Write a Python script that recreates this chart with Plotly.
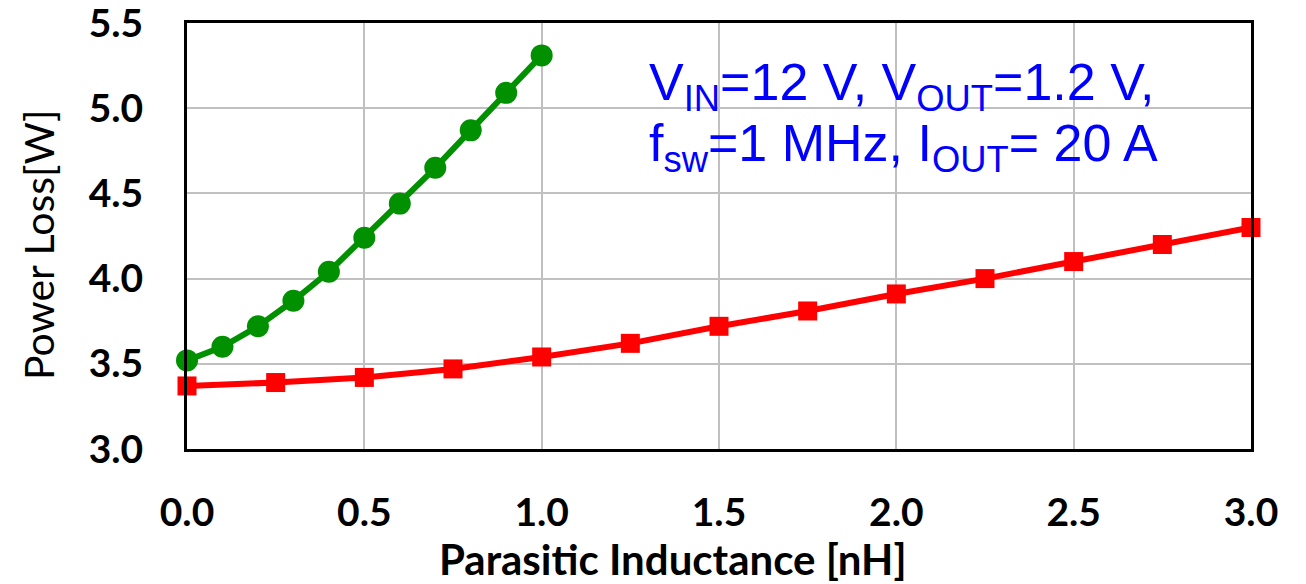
import plotly.graph_objects as go

# Data
x_green = [0.0, 0.1, 0.2, 0.3, 0.4, 0.5, 0.6, 0.7, 0.8, 0.9, 1.0]
y_green = [3.52, 3.60, 3.72, 3.87, 4.04, 4.24, 4.44, 4.65, 4.87, 5.09, 5.31]
x_red = [0.0, 0.25, 0.5, 0.75, 1.0, 1.25, 1.5, 1.75, 2.0, 2.25, 2.5, 2.75, 3.0]
y_red = [3.37, 3.39, 3.42, 3.47, 3.54, 3.62, 3.72, 3.81, 3.91, 4.00, 4.10, 4.20, 4.30]
x_ticks = [0.0, 0.5, 1.0, 1.5, 2.0, 2.5, 3.0]
y_ticks = [3.0, 3.5, 4.0, 4.5, 5.0, 5.5]
x_title = "Parasitic Inductance [nH]"
y_title = "Power Loss[W]"
note_line1 = "V<sub>IN</sub>=12 V, V<sub>OUT</sub>=1.2 V,"
note_line2 = "f<sub>sw</sub>=1 MHz, I<sub>OUT</sub>= 20 A"

fig = go.Figure()
fig.add_trace(go.Scatter(x=x_red, y=y_red, mode="lines+markers",
                         line=dict(color="#ff0000", width=6),
                         marker=dict(symbol="square", size=19, color="#ff0000"),
                         cliponaxis=False, showlegend=False))
fig.add_trace(go.Scatter(x=x_green, y=y_green, mode="lines+markers",
                         line=dict(color="#009000", width=6),
                         marker=dict(symbol="circle", size=22, color="#009000"),
                         cliponaxis=False, showlegend=False))

tick_font = dict(family="Lato", size=39, color="black", weight="bold")
fig.update_xaxes(range=[0, 3], tickvals=x_ticks, ticktext=[f"{v:.1f}" for v in x_ticks],
                 tickfont=tick_font, showgrid=True, gridcolor="#c0c0c0", gridwidth=1.5,
                 showline=True, linecolor="black", linewidth=3, mirror=True,
                 ticks="", ticklabelstandoff=27, zeroline=False, ticklabeloverflow="allow")
fig.update_yaxes(range=[3.0, 5.5], tickvals=y_ticks, ticktext=[f"{v:.1f}" for v in y_ticks],
                 tickfont=tick_font, showgrid=True, gridcolor="#c0c0c0", gridwidth=2,
                 showline=True, linecolor="black", linewidth=3, mirror=True,
                 ticks="", ticklabelstandoff=33, zeroline=False, ticklabeloverflow="allow")

# Axis titles (placed as annotations to match the off-centre placement)
fig.add_annotation(xref="paper", yref="paper", x=(673 - 187) / 1064, y=-(559 - 449) / 426,
                   xanchor="center", yanchor="middle", text=x_title, showarrow=False,
                   font=dict(family="Lato", size=42, color="black", weight="bold"))
fig.add_annotation(xref="paper", yref="paper", x=-(187 - 38) / 1064, y=(449 - 245) / 426,
                   xanchor="center", yanchor="middle", text=y_title, showarrow=False,
                   textangle=-90, font=dict(family="Lato", size=41, color="black"))

fig.add_annotation(xref="paper", yref="paper", x=0.432, y=0.935, xanchor="left", yanchor="top",
                   text=note_line1, showarrow=False, align="left",
                   font=dict(family="Liberation Sans", size=52, color="#0000ff"))
fig.add_annotation(xref="paper", yref="paper", x=0.432, y=0.79, xanchor="left", yanchor="top",
                   text=note_line2, showarrow=False, align="left",
                   font=dict(family="Liberation Sans", size=52, color="#0000ff"))

fig.update_layout(width=1306, height=584, margin=dict(l=187, r=55, t=23, b=135, autoexpand=False),
                  plot_bgcolor="white", paper_bgcolor="white")
fig.write_html("out.html")
